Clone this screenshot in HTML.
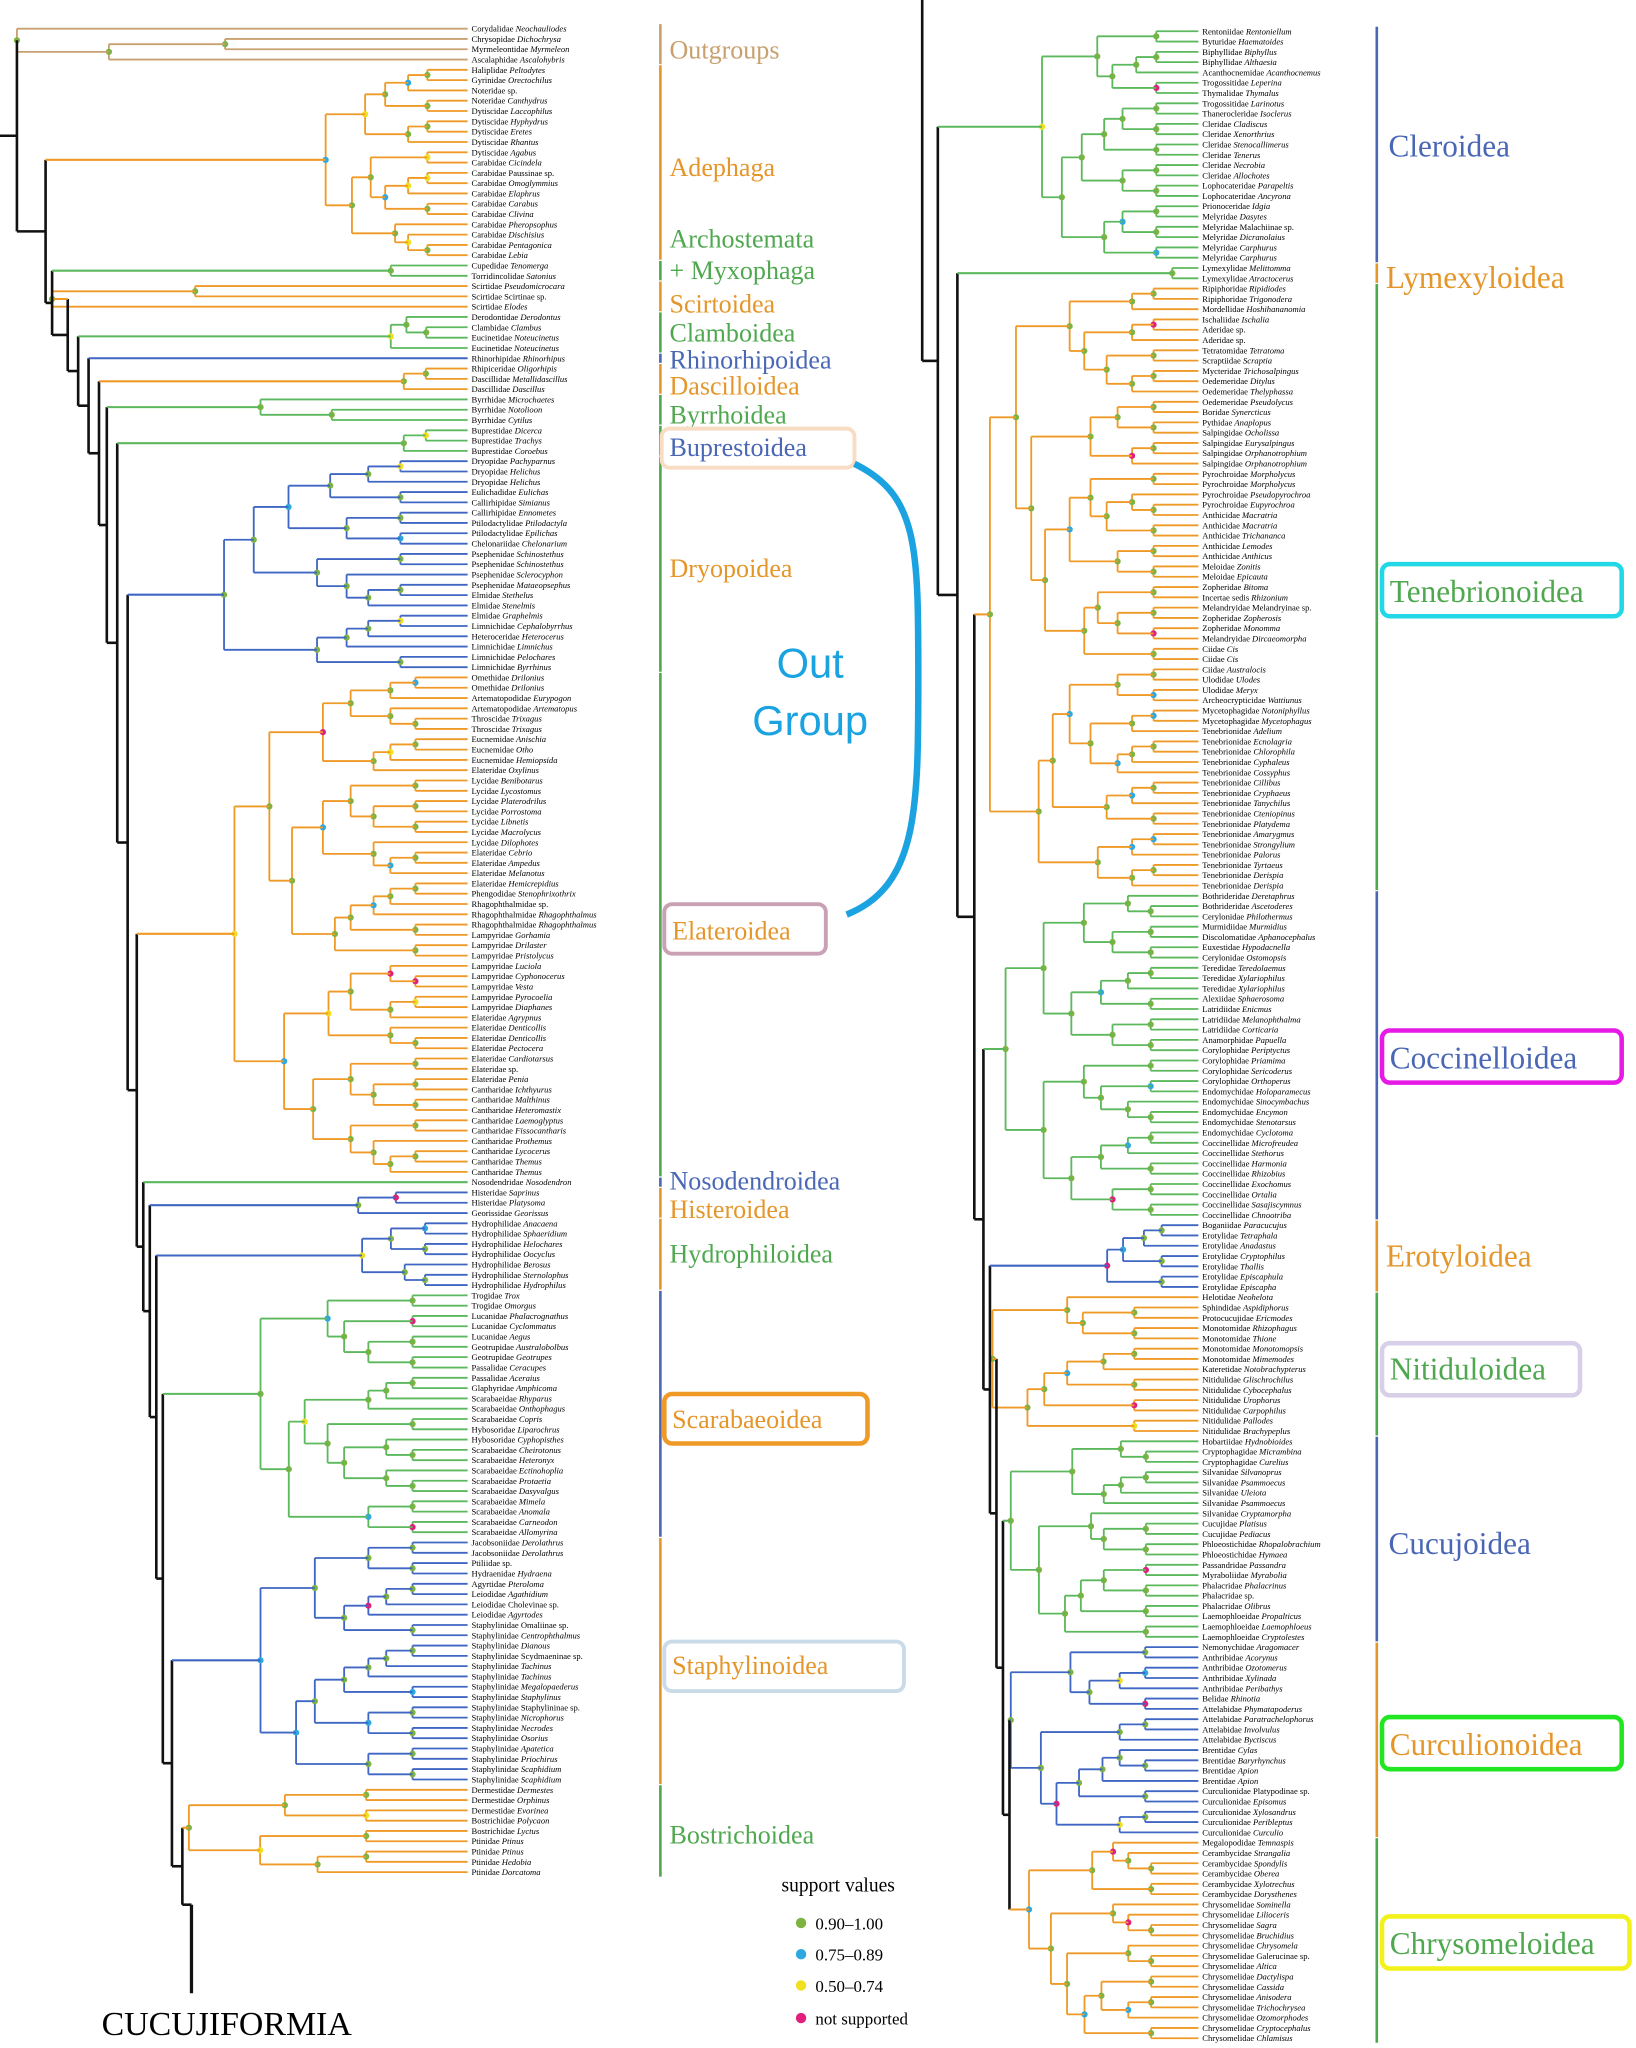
<!DOCTYPE html>
<html><head><meta charset="utf-8">
<style>
html,body{margin:0;padding:0;background:#fff;}
svg{display:block;}
</style></head>
<body>
<svg id="s" xmlns="http://www.w3.org/2000/svg" width="1636" height="2048" viewBox="0 0 1256 1572" preserveAspectRatio="none" font-family="'Liberation Serif',serif">
<rect width="1256" height="1572" fill="#fff"/>
<g id="tree"></g>
<g font-size="20">
<text x="514" y="45" fill="#c8a06e">Outgroups</text>
<text x="514" y="135" fill="#e5962a">Adephaga</text>
<text x="514" y="190" fill="#4fa84f">Archostemata</text>
<text x="514" y="214" fill="#4fa84f">+ Myxophaga</text>
<text x="514" y="240" fill="#e5962a">Scirtoidea</text>
<text x="514" y="262" fill="#4fa84f">Clamboidea</text>
<text x="514" y="283" fill="#4a67b5">Rhinorhipoidea</text>
<text x="514" y="303" fill="#e5962a">Dascilloidea</text>
<text x="514" y="325" fill="#4fa84f">Byrrhoidea</text>
<rect x="508" y="329" width="148" height="30" rx="6" fill="none" stroke="#f8dcc4" stroke-width="3"/>
<text x="514" y="350" fill="#4a67b5">Buprestoidea</text>
<text x="514" y="443" fill="#e5962a">Dryopoidea</text>
<rect x="510" y="694" width="124" height="38" rx="6" fill="none" stroke="#c9a0b4" stroke-width="3"/>
<text x="516" y="721" fill="#e5962a">Elateroidea</text>
<text x="514" y="913" fill="#4a67b5">Nosodendroidea</text>
<text x="514" y="935" fill="#e5962a">Histeroidea</text>
<text x="514" y="969" fill="#4fa84f">Hydrophiloidea</text>
<rect x="510" y="1070" width="156" height="38" rx="6" fill="none" stroke="#ef9a26" stroke-width="3.5"/>
<text x="516" y="1096" fill="#e5962a">Scarabaeoidea</text>
<rect x="510" y="1260" width="184" height="38" rx="6" fill="none" stroke="#c9dbe8" stroke-width="3"/>
<text x="516" y="1285" fill="#e5962a">Staphylinoidea</text>
<text x="514" y="1415" fill="#4fa84f">Bostrichoidea</text>
</g>
<g font-size="24">
<text x="1066" y="120" fill="#4a67b5">Cleroidea</text>
<text x="1064" y="221" fill="#e5962a">Lymexyloidea</text>
<rect x="1061" y="433" width="184" height="40" rx="6" fill="none" stroke="#22d8e6" stroke-width="3.5"/>
<text x="1067" y="462" fill="#4fa84f">Tenebrionoidea</text>
<rect x="1061" y="791" width="184" height="40" rx="6" fill="none" stroke="#e619e6" stroke-width="3.5"/>
<text x="1067" y="820" fill="#4a67b5">Coccinelloidea</text>
<text x="1064" y="972" fill="#e5962a">Erotyloidea</text>
<rect x="1061" y="1031" width="152" height="40" rx="6" fill="none" stroke="#d8d0e8" stroke-width="3.5"/>
<text x="1067" y="1059" fill="#4fa84f">Nitiduloidea</text>
<text x="1066" y="1193" fill="#4a67b5">Cucujoidea</text>
<rect x="1061" y="1318" width="184" height="40" rx="6" fill="none" stroke="#22e622" stroke-width="3.5"/>
<text x="1067" y="1347" fill="#e5962a">Curculionoidea</text>
<rect x="1061" y="1471" width="190" height="40" rx="6" fill="none" stroke="#f2f21a" stroke-width="3.5"/>
<text x="1067" y="1500" fill="#4fa84f">Chrysomeloidea</text>
</g>
<path d="M656,356 C705,380 705,420 705,520 C705,620 705,680 650,702" fill="none" stroke="#1aa3e0" stroke-width="5"/>
<text x="622" y="520" font-family="'Liberation Sans',sans-serif" font-size="32" fill="#1aa3e0" text-anchor="middle">Out</text>
<text x="622" y="564" font-family="'Liberation Sans',sans-serif" font-size="32" fill="#1aa3e0" text-anchor="middle">Group</text>
<text x="600" y="1452" font-size="15">support values</text>
<circle cx="615" cy="1476" r="4" fill="#7cb342"/><text x="626" y="1481" font-size="13">0.90–1.00</text>
<circle cx="615" cy="1500" r="4" fill="#2ea8e0"/><text x="626" y="1505" font-size="13">0.75–0.89</text>
<circle cx="615" cy="1524" r="4" fill="#f0e020"/><text x="626" y="1529" font-size="13">0.50–0.74</text>
<circle cx="615" cy="1549" r="4" fill="#e0207a"/><text x="626" y="1554" font-size="13">not supported</text>
<text x="78" y="1562" font-size="26">CUCUJIFORMIA</text>
</svg>
<script>
const LN="Corydalidae Neochauliodes|Chrysopidae Dichochrysa|Myrmeleontidae Myrmeleon|Ascalaphidae Ascalohybris|Haliplidae Peltodytes|Gyrinidae Orectochilus|Noteridae sp.|Noteridae Canthydrus|Dytiscidae Laccophilus|Dytiscidae Hyphydrus|Dytiscidae Eretes|Dytiscidae Rhantus|Dytiscidae Agabus|Carabidae Cicindela|Carabidae Paussinae sp.|Carabidae Omoglymmius|Carabidae Elaphrus|Carabidae Carabus|Carabidae Clivina|Carabidae Pheropsophus|Carabidae Dischisius|Carabidae Pentagonica|Carabidae Lebia|Cupedidae Tenomerga|Torridincolidae Satonius|Scirtidae Pseudomicrocara|Scirtidae Scirtinae sp.|Scirtidae Elodes|Derodontidae Derodontus|Clambidae Clambus|Eucinetidae Noteucinetus|Eucinetidae Noteucinetus|Rhinorhipidae Rhinorhipus|Rhipiceridae Oligorhipis|Dascillidae Metallidascillus|Dascillidae Dascillus|Byrrhidae Microchaetes|Byrrhidae Notolioon|Byrrhidae Cytilus|Buprestidae Dicerca|Buprestidae Trachys|Buprestidae Coroebus|Dryopidae Pachyparnus|Dryopidae Helichus|Dryopidae Helichus|Eulichadidae Eulichas|Callirhipidae Simianus|Callirhipidae Ennometes|Ptilodactylidae Ptilodactyla|Ptilodactylidae Epilichas|Chelonariidae Chelonarium|Psephenidae Schinostethus|Psephenidae Schinostethus|Psephenidae Sclerocyphon|Psephenidae Mataeopsephus|Elmidae Stethelus|Elmidae Stenelmis|Elmidae Graphelmis|Limnichidae Cephalobyrrhus|Heteroceridae Heterocerus|Limnichidae Limnichus|Limnichidae Pelochares|Limnichidae Byrrhinus|Omethidae Drilonius|Omethidae Drilonius|Artematopodidae Eurypogon|Artematopodidae Artematopus|Throscidae Trixagus|Throscidae Trixagus|Eucnemidae Anischia|Eucnemidae Otho|Eucnemidae Hemiopsida|Elateridae Oxylinus|Lycidae Benibotarus|Lycidae Lycostomus|Lycidae Platerodrilus|Lycidae Porrostoma|Lycidae Libnetis|Lycidae Macrolycus|Lycidae Dilophotes|Elateridae Cebrio|Elateridae Ampedus|Elateridae Melanotus|Elateridae Hemicrepidius|Phengodidae Stenophrixothrix|Rhagophthalmidae sp.|Rhagophthalmidae Rhagophthalmus|Rhagophthalmidae Rhagophthalmus|Lampyridae Gorhamia|Lampyridae Drilaster|Lampyridae Pristolycus|Lampyridae Luciola|Lampyridae Cyphonocerus|Lampyridae Vesta|Lampyridae Pyrocoelia|Lampyridae Diaphanes|Elateridae Agrypnus|Elateridae Denticollis|Elateridae Denticollis|Elateridae Pectocera|Elateridae Cardiotarsus|Elateridae sp.|Elateridae Penia|Cantharidae Ichthyurus|Cantharidae Malthinus|Cantharidae Heteromastix|Cantharidae Laemoglyptus|Cantharidae Fissocantharis|Cantharidae Prothemus|Cantharidae Lycocerus|Cantharidae Themus|Cantharidae Themus|Nosodendridae Nosodendron|Histeridae Saprinus|Histeridae Platysoma|Georissidae Georissus|Hydrophilidae Anacaena|Hydrophilidae Sphaeridium|Hydrophilidae Helochares|Hydrophilidae Oocyclus|Hydrophilidae Berosus|Hydrophilidae Sternolophus|Hydrophilidae Hydrophilus|Trogidae Trox|Trogidae Omorgus|Lucanidae Phalacrognathus|Lucanidae Cyclommatus|Lucanidae Aegus|Geotrupidae Australobolbus|Geotrupidae Geotrupes|Passalidae Ceracupes|Passalidae Aceraius|Glaphyridae Amphicoma|Scarabaeidae Rhyparus|Scarabaeidae Onthophagus|Scarabaeidae Copris|Hybosoridae Liparochrus|Hybosoridae Cyphopisthes|Scarabaeidae Cheirotonus|Scarabaeidae Heteronyx|Scarabaeidae Ectinohoplia|Scarabaeidae Protaetia|Scarabaeidae Dasyvalgus|Scarabaeidae Mimela|Scarabaeidae Anomala|Scarabaeidae Carneodon|Scarabaeidae Allomyrina|Jacobsoniidae Derolathrus|Jacobsoniidae Derolathrus|Ptiliidae sp.|Hydraenidae Hydraena|Agyrtidae Pteroloma|Leiodidae Agathidium|Leiodidae Cholevinae sp.|Leiodidae Agyrtodes|Staphylinidae Omaliinae sp.|Staphylinidae Centrophthalmus|Staphylinidae Dianous|Staphylinidae Scydmaeninae sp.|Staphylinidae Tachinus|Staphylinidae Tachinus|Staphylinidae Megalopaederus|Staphylinidae Staphylinus|Staphylinidae Staphylininae sp.|Staphylinidae Nicrophorus|Staphylinidae Necrodes|Staphylinidae Osorius|Staphylinidae Apatetica|Staphylinidae Priochirus|Staphylinidae Scaphidium|Staphylinidae Scaphidium|Dermestidae Dermestes|Dermestidae Orphinus|Dermestidae Evorinea|Bostrichidae Polycaon|Bostrichidae Lyctus|Ptinidae Ptinus|Ptinidae Ptinus|Ptinidae Hedobia|Ptinidae Dorcatoma".split("|");
const RN="Rentoniidae Rentoniellum|Byturidae Haematoides|Biphyllidae Biphyllus|Biphyllidae Althaesia|Acanthocnemidae Acanthocnemus|Trogossitidae Leperina|Thymalidae Thymalus|Trogossitidae Larinotus|Thanerocleridae Isoclerus|Cleridae Cladiscus|Cleridae Xenorthrius|Cleridae Stenocallimerus|Cleridae Tenerus|Cleridae Necrobia|Cleridae Allochotes|Lophocateridae Parapeltis|Lophocateridae Ancyrona|Prionoceridae Idgia|Melyridae Dasytes|Melyridae Malachiinae sp.|Melyridae Dicranolaius|Melyridae Carphurus|Melyridae Carphurus|Lymexylidae Melittomma|Lymexylidae Atractocerus|Ripiphoridae Ripidiodes|Ripiphoridae Trigonodera|Mordellidae Hoshihananomia|Ischaliidae Ischalia|Aderidae sp.|Aderidae sp.|Tetratomidae Tetratoma|Scraptiidae Scraptia|Mycteridae Trichosalpingus|Oedemeridae Ditylus|Oedemeridae Thelyphassa|Oedemeridae Pseudolycus|Boridae Synercticus|Pythidae Anaplopus|Salpingidae Ocholissa|Salpingidae Eurysalpingus|Salpingidae Orphanotrophium|Salpingidae Orphanotrophium|Pyrochroidae Morpholycus|Pyrochroidae Morpholycus|Pyrochroidae Pseudopyrochroa|Pyrochroidae Eupyrochroa|Anthicidae Macratria|Anthicidae Macratria|Anthicidae Trichananca|Anthicidae Lemodes|Anthicidae Anthicus|Meloidae Zonitis|Meloidae Epicauta|Zopheridae Bitoma|Incertae sedis Rhizonium|Melandryidae Melandryinae sp.|Zopheridae Zopherosis|Zopheridae Monomma|Melandryidae Dircaeomorpha|Ciidae Cis|Ciidae Cis|Ciidae Australocis|Ulodidae Ulodes|Ulodidae Meryx|Archeocrypticidae Wattiunus|Mycetophagidae Notoniphyllus|Mycetophagidae Mycetophagus|Tenebrionidae Adelium|Tenebrionidae Ecnolagria|Tenebrionidae Chlorophila|Tenebrionidae Cyphaleus|Tenebrionidae Cossyphus|Tenebrionidae Cillibus|Tenebrionidae Cryphaeus|Tenebrionidae Tanychilus|Tenebrionidae Cteniopinus|Tenebrionidae Platydema|Tenebrionidae Amarygmus|Tenebrionidae Strongylium|Tenebrionidae Palorus|Tenebrionidae Tyrtaeus|Tenebrionidae Derispia|Tenebrionidae Derispia|Bothrideridae Deretaphrus|Bothrideridae Ascetoderes|Cerylonidae Philothermus|Murmidiidae Murmidius|Discolomatidae Aphanocephalus|Euxestidae Hypodacnella|Cerylonidae Ostomopsis|Teredidae Teredolaemus|Teredidae Xylariophilus|Teredidae Xylariophilus|Alexiidae Sphaerosoma|Latridiidae Enicmus|Latridiidae Melanophthalma|Latridiidae Corticaria|Anamorphidae Papuella|Corylophidae Periptyctus|Corylophidae Priamima|Corylophidae Sericoderus|Corylophidae Orthoperus|Endomychidae Holoparamecus|Endomychidae Sinocymbachus|Endomychidae Encymon|Endomychidae Stenotarsus|Endomychidae Cyclotoma|Coccinellidae Microfreudea|Coccinellidae Stethorus|Coccinellidae Harmonia|Coccinellidae Rhizobius|Coccinellidae Exochomus|Coccinellidae Ortalia|Coccinellidae Sasajiscymnus|Coccinellidae Chnootriba|Boganiidae Paracucujus|Erotylidae Tetraphala|Erotylidae Anadastus|Erotylidae Cryptophilus|Erotylidae Thallis|Erotylidae Episcaphula|Erotylidae Episcapha|Helotidae Neohelota|Sphindidae Aspidiphorus|Protocucujidae Ericmodes|Monotomidae Rhizophagus|Monotomidae Thione|Monotomidae Monotomopsis|Monotomidae Mimemodes|Kateretidae Notobrachypterus|Nitidulidae Glischrochilus|Nitidulidae Cybocephalus|Nitidulidae Urophorus|Nitidulidae Carpophilus|Nitidulidae Pallodes|Nitidulidae Brachypeplus|Hobartiidae Hydnobioides|Cryptophagidae Micrambina|Cryptophagidae Curelius|Silvanidae Silvanoprus|Silvanidae Psammoecus|Silvanidae Uleiota|Silvanidae Psammoecus|Silvanidae Cryptamorpha|Cucujidae Platisus|Cucujidae Pediacus|Phloeostichidae Rhopalobrachium|Phloeostichidae Hymaea|Passandridae Passandra|Myraboliidae Myrabolia|Phalacridae Phalacrinus|Phalacridae sp.|Phalacridae Olibrus|Laemophloeidae Propalticus|Laemophloeidae Laemophloeus|Laemophloeidae Cryptolestes|Nemonychidae Aragomacer|Anthribidae Acorynus|Anthribidae Ozotomerus|Anthribidae Xylinada|Anthribidae Peribathys|Belidae Rhinotia|Attelabidae Phymatapoderus|Attelabidae Paratrachelophorus|Attelabidae Involvulus|Attelabidae Byctiscus|Brentidae Cylas|Brentidae Baryrhynchus|Brentidae Apion|Brentidae Apion|Curculionidae Platypodinae sp.|Curculionidae Episomus|Curculionidae Xylosandrus|Curculionidae Peribleptus|Curculionidae Curculio|Megalopodidae Temnaspis|Cerambycidae Strangalia|Cerambycidae Spondylis|Cerambycidae Oberea|Cerambycidae Xylotrechus|Cerambycidae Dorysthenes|Chrysomelidae Sominella|Chrysomelidae Lilioceris|Chrysomelidae Sagra|Chrysomelidae Bruchidius|Chrysomelidae Chrysomela|Chrysomelidae Galerucinae sp.|Chrysomelidae Altica|Chrysomelidae Dactylispa|Chrysomelidae Cassida|Chrysomelidae Anisodera|Chrysomelidae Trichochrysea|Chrysomelidae Ozomorphodes|Chrysomelidae Cryptocephalus|Chrysomelidae Chlamisus".split("|");
const G=document.getElementById("tree");
let out="";
let seed=7;function rnd(){seed=(seed*16807)%2147483647;return seed/2147483647;}
const C={o:"#ef9a26",g:"#5cb85c",b:"#3f66c2",t:"#c9a070",k:"#111"};
const TC={o:"#e5962a",g:"#4fa84f",b:"#4a67b5",t:"#c8a06e"};
function ln(x1,y1,x2,y2,c,w){out+=`<line x1="${x1.toFixed(1)}" y1="${y1.toFixed(1)}" x2="${x2.toFixed(1)}" y2="${y2.toFixed(1)}" stroke="${c}" stroke-width="${w||1.4}"/>`;}
function dot(x,y){const r=rnd();const c=r<0.8?"#7cb342":r<0.9?"#2ea8e0":r<0.95?"#f0e020":"#e0207a";out+=`<circle cx="${x.toFixed(1)}" cy="${y.toFixed(1)}" r="2.4" fill="${c}"/>`;}
function labels(names,x,yOf){names.forEach((n,i)=>{let sp=n.indexOf(" ");let fam=n.slice(0,sp),gen=n.slice(sp+1);
 if(n.startsWith("Incertae sedis")){fam="Incertae sedis";gen=n.slice(15);}
 let it=!(gen.endsWith("sp."));
 out+=`<text x="${x}" y="${(yOf(i)+2.3).toFixed(1)}" font-size="6.6">${fam} <tspan${it?' font-style="italic"':''}>${gen}</tspan></text>`;});}
function build(lo,hi,rx,N,LE,yOf,c,isRoot){
 if(lo===hi){return {x:LE,y:yOf(lo)};}
 const size=hi-lo+1;
 let x=isRoot?rx:LE-(LE-rx)*Math.pow(Math.log(size)/Math.log(N),0.85)*0.97;
 let m=lo+1+Math.floor((size-1)*(0.2+0.6*rnd()));if(m>hi)m=hi;
 const a=build(lo,m-1,rx,N,LE,yOf,c,false),b=build(m,hi,rx,N,LE,yOf,c,false);
 ln(x,a.y,x,b.y,c);ln(x,a.y,a.x,a.y,c);ln(x,b.y,b.x,b.y,c);
 const y=(a.y+b.y)/2;dot(x,y);return {x,y};
}
function side(names,labelX,y0,sp,groups,ladderX,bracketX,cont){
 const yOf=i=>y0+i*sp;const LE=labelX-3;
 labels(names,labelX,yOf);
 const roots=groups.map(g=>{const N=g.hi-g.lo+1;
   const r=build(g.lo-1,g.hi-1,g.rx,N,LE,yOf,C[g.c],true);
   ln(bracketX,yOf(g.lo-1)-3.5,bracketX,yOf(g.hi-1)+3.5,TC[g.tc||g.c],2);
   return r;});
 let next=cont;
 for(let k=groups.length-1;k>=0;k--){
   const r=roots[k];const x=ladderX[k];
   if(next===null){next={x:r.x,y:r.y,c:C[groups[k].c]};continue;}
   const y=(r.y+next.y)/2;
   ln(x,r.y,x,next.y,C.k,2);
   ln(x,r.y,r.x,r.y,C[groups[k].c],1.6);
   ln(x,next.y,next.x,next.y,next.c||C.k,next.c?1.6:2);
   next={x,y};
 }
 return next;
}
const LG=[{lo:1,hi:4,c:"t",rx:13},{lo:5,hi:23,c:"o",rx:250},{lo:24,hi:25,c:"g",rx:300},{lo:26,hi:28,c:"o",rx:40},{lo:29,hi:32,c:"g",rx:300},{lo:33,hi:33,c:"b",rx:90},{lo:34,hi:36,c:"o",rx:310},{lo:37,hi:39,c:"g",rx:200},{lo:40,hi:42,c:"g",rx:310,tc:"g"},{lo:43,hi:63,c:"b",rx:172,tc:"g"},{lo:64,hi:112,c:"o",rx:180,tc:"g"},{lo:113,hi:113,c:"g",rx:120,tc:"b"},{lo:114,hi:116,c:"b",rx:275,tc:"o"},{lo:117,hi:123,c:"b",rx:278,tc:"o"},{lo:124,hi:147,c:"g",rx:200,tc:"b"},{lo:148,hi:171,c:"b",rx:200,tc:"o"},{lo:172,hi:180,c:"o",rx:145,tc:"g"}];
const Lx=[13,35,40,52,60,68,76,82,90,98,105,110,115,120,125,132,140];
const lroot=side(LN,362,22,(1437-22)/179,LG,Lx,507,{x:147,y:1462});
ln(0,lroot.y,Lx[0],lroot.y,C.k,2);
ln(147,1462,147,1530,C.k,2.5);
const RG=[{lo:1,hi:23,c:"g",rx:800,tc:"b"},{lo:24,hi:25,c:"g",rx:900,tc:"o"},{lo:26,hi:84,c:"o",rx:760,tc:"g"},{lo:85,hi:116,c:"g",rx:772,tc:"b"},{lo:117,hi:123,c:"b",rx:850,tc:"o"},{lo:124,hi:137,c:"o",rx:762,tc:"g"},{lo:138,hi:157,c:"g",rx:776,tc:"b"},{lo:158,hi:176,c:"b",rx:776,tc:"o"},{lo:177,hi:196,c:"o",rx:790,tc:"g"}];
const Rx=[720,735,748,755,760,765,770,775,780];
const rroot=side(RN,923,24,7.9,RG,Rx,1057,null);
ln(708,0,708,rroot.y,C.k,2);ln(708,rroot.y,rroot.x,rroot.y,C.k,2);
G.innerHTML=out;
</script>
</body></html>
